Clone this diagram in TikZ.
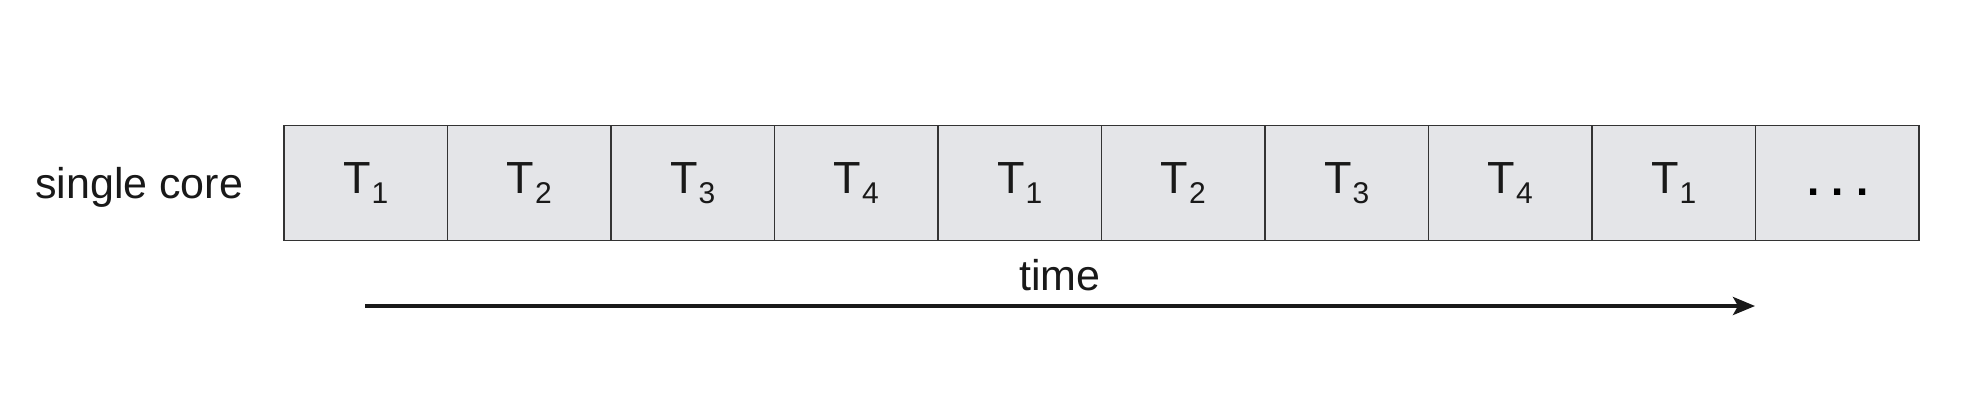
\documentclass[tikz,border=0pt]{standalone}
\usepackage{fontspec}
\setmainfont{Liberation Sans}
\usetikzlibrary{arrows.meta}
\definecolor{cellfill}{HTML}{E4E5E8}
\definecolor{cellline}{HTML}{333333}
\newcommand{\tsub}[1]{T\kern1pt\raisebox{-10pt}{\fontsize{30}{30}\selectfont #1}}
\begin{document}
\begin{tikzpicture}[x=1pt,y=-1pt,
  cell/.style={draw=cellline,fill=cellfill,line width=1.8pt,minimum width=163.5pt,minimum height=115pt,inner sep=0pt,font=\fontsize{45}{45}\selectfont,text=black!90},
  lbl/.style={font=\fontsize{43}{43}\selectfont,text=black!90,inner sep=0pt},
  timearrow/.style={line width=3.6pt,draw=black!90,-{Stealth[length=22pt,width=18pt,inset=5pt]}}]
\useasboundingbox (0,0) rectangle (1978,404);
\foreach \i/\t in {1/1,2/2,3/3,4/4,5/1,6/2,7/3,8/4,9/1}{
  \node[cell] (b\i) at ({284+163.5*(\i-0.5)},183) {\tsub{\t}};
}
\node[cell] (b10) at ({284+163.5*9.5},183) {};
\node[font=\fontsize{44}{44}\selectfont\bfseries,inner sep=0pt,anchor=base] (dots) at (1838,195) {.\kern0.28em.\kern0.28em.};
\node[lbl,anchor=base west] (single) at (35,198) {single core};
\node[lbl,anchor=base] (time) at (1060,290) {time};
\coordinate (ts) at (365,306);
\coordinate (te) at (1755,306);
\draw[timearrow] (ts) -- (te);
\end{tikzpicture}
\end{document}
